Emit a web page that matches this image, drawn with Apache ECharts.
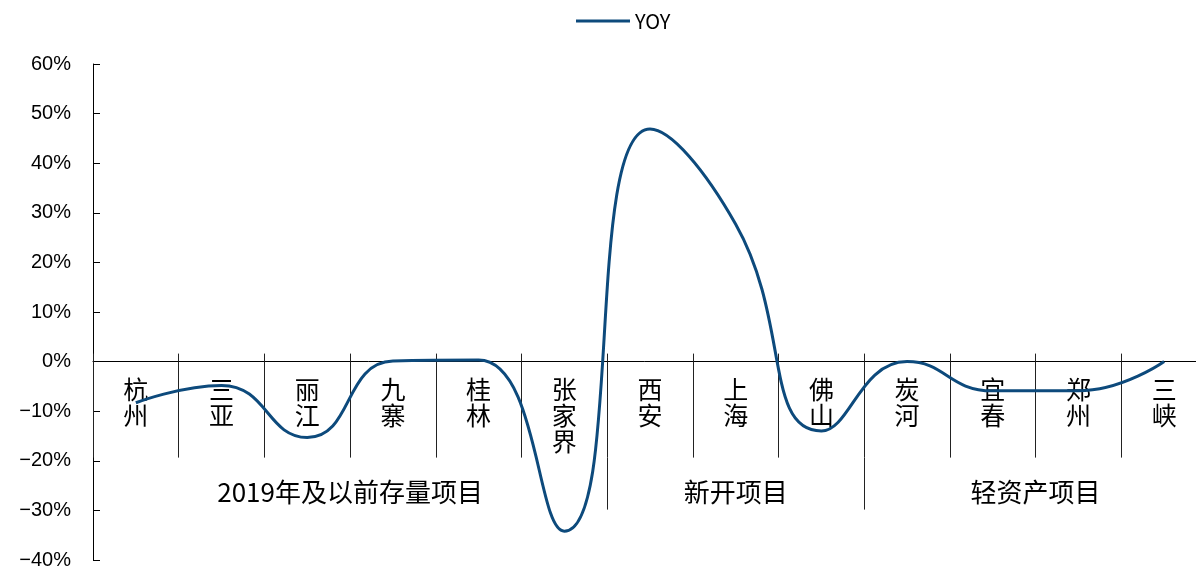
<!DOCTYPE html>
<html>
<head>
<meta charset="utf-8">
<script src="https://cdn.jsdelivr.net/npm/echarts@6/dist/echarts.min.js"></script>
<style>
  html, body { margin: 0; padding: 0; background: #fff; }
  #chart { width: 1196px; height: 570px; }
</style>
</head>
<body>
<div id="chart"></div>
<script>
// 城市
var cities = ['杭州', '三亚', '丽江', '九寨', '桂林', '张家界', '西安', '上海', '佛山', '炭河', '宜春', '郑州', '三峡'];
// 同比 %
var yoy = [-8.3, -4.8, -15.3, 0.1, 0.3, -34.2, 46.9, 27.7, -14.0, 0.0, -5.9, -5.9, 0.0];
// 分组
var groupNames = ['2019年及以前存量项目', '新开项目', '轻资产项目'];
var groupSizes = [6, 3, 4];
var yMin = -40, yMax = 60, yStep = 10;

// 分组边界和中点（按类目数）
var groupBounds = [], groupCenters = [];
var acc = 0;
groupSizes.forEach(function (n, i) {
    groupCenters.push(acc + n / 2);
    acc += n;
    if (i < groupSizes.length - 1) groupBounds.push(acc);
});

var gridH = 496;
// 类目轴放在 0% 处（标签跟着轴线走）
var zeroOffset = -(0 - yMin) / (yMax - yMin) * gridH;

var cjk = '"Noto Sans CJK SC", sans-serif';
var lineColor = '#0d4a7c';
var chart = echarts.init(document.getElementById('chart'));
var option = {
    animation: false,
    legend: {
        top: 11,
        left: 576,
        padding: 0,
        icon: 'rect',
        itemWidth: 54,
        itemHeight: 3,
        textStyle: { fontFamily: cjk, fontSize: 20, color: '#000' },
        data: ['YOY']
    },
    grid: { left: 93, top: 64, height: gridH, width: 1114, containLabel: false, outerBoundsMode: 'none' },
    xAxis: [
        {
            type: 'category',
            data: cities,
            position: 'bottom',
            offset: zeroOffset,
            axisLine: { onZero: false, lineStyle: { color: '#000', width: 1 } },
            axisTick: { show: true, interval: 0, length: 96, lineStyle: { color: '#222' } },
            axisLabel: {
                interval: 0,
                margin: 15,
                fontFamily: cjk,
                fontSize: 25,
                lineHeight: 26,
                color: '#000',
                formatter: function (v) { return v.split('').join('\n'); }
            },
            splitLine: { show: false }
        },
        {
            // 轴线上方的短刻度
            type: 'category',
            data: cities,
            position: 'bottom',
            offset: zeroOffset,
            axisLine: { show: false, onZero: false },
            axisTick: { show: true, inside: true, interval: 0, length: 8, lineStyle: { color: '#222' } },
            axisLabel: { show: false },
            splitLine: { show: false }
        },
        {
            // 分组标签
            type: 'value',
            min: 0,
            max: cities.length,
            position: 'bottom',
            offset: zeroOffset + 96,
            axisLine: { show: false, onZero: false },
            axisTick: { show: true, length: 52, customValues: groupBounds, lineStyle: { color: '#222' } },
            axisLabel: {
                margin: 22,
                fontFamily: cjk,
                fontSize: 26,
                color: '#000',
                customValues: groupCenters,
                formatter: function (v) { return groupNames[groupCenters.indexOf(v)]; }
            },
            splitLine: { show: false }
        }
    ],
    yAxis: {
        type: 'value',
        min: yMin,
        max: yMax,
        interval: yStep,
        axisLine: { show: true, lineStyle: { color: '#000', width: 1 } },
        axisTick: { show: true, inside: true, length: 7, lineStyle: { color: '#000' } },
        axisLabel: {
            margin: 22,
            fontFamily: '"Liberation Sans", Arial, sans-serif',
            fontSize: 20,
            color: '#000',
            formatter: function (v) { return (v < 0 ? '\u2212' + (-v) : v) + '%'; }
        },
        splitLine: { show: false }
    },
    series: [{
        name: 'YOY',
        type: 'line',
        data: yoy,
        smooth: true,
        symbol: 'none',
        lineStyle: { color: lineColor, width: 3 },
        itemStyle: { color: lineColor }
    }]
};
chart.setOption(option);
</script>
</body>
</html>
